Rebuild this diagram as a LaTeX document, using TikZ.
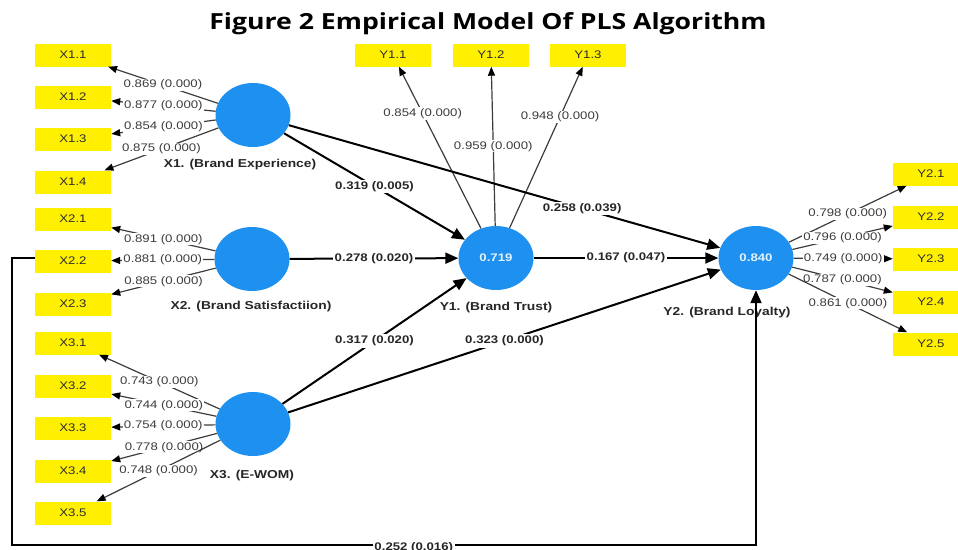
\documentclass[tikz,border=0pt]{standalone}
\usepackage{fontspec}
\setmainfont{Liberation Sans}
\newfontfamily\diagfont[FakeStretch=1.2]{Liberation Sans}
\newfontfamily\titlefont[FakeStretch=1.2]{Open Sans}
\usetikzlibrary{arrows.meta,shapes.geometric}
\definecolor{indyellow}{RGB}{255,240,0}
\definecolor{latblue}{RGB}{30,144,240}
\definecolor{loadgray}{RGB}{60,60,60}
\definecolor{lvtext}{RGB}{60,60,60}
\definecolor{boxtext}{RGB}{45,45,45}
\tikzset{
  box/.style={fill=indyellow, minimum width=76pt, minimum height=23pt, inner sep=0pt,
    font=\diagfont\fontsize{11}{13}\selectfont, text=boxtext},
  lat/.style={ellipse, fill=latblue, minimum width=75pt, minimum height=64pt, inner sep=0pt,
    font=\diagfont\bfseries\fontsize{11}{13}\selectfont, text=white!88!latblue},
  load/.style={draw=loadgray, line width=1.2pt, -{Triangle[length=9pt,width=7pt,color=black]}},
  lv/.style={fill=white, inner sep=1pt, font=\diagfont\fontsize{11}{13}\selectfont, text=lvtext},
  struct/.style={draw=black, line width=2pt, -{Triangle[length=13pt,width=11pt]}},
  pv/.style={fill=white, inner sep=1.5pt, font=\diagfont\bfseries\fontsize{11}{13}\selectfont, text=black!85},
  lvname/.style={font=\diagfont\bfseries\fontsize{11.5}{13}\selectfont, text=black!85}
}
\begin{document}
\begin{tikzpicture}[x=1pt,y=-1pt]
\useasboundingbox (0,0) rectangle (958,549);
\clip (0,0) rectangle (958,549);

% title
\node[font=\titlefont\bfseries\fontsize{22.2}{26}\selectfont] (title) at (488,24) {Figure 2 Empirical Model Of PLS Algorithm};

% latent variables
\node[lat] (X1) at (253,115) {};
\node[lat] (X2) at (252,259) {};
\node[lat] (X3) at (253,424) {};
\node[lat] (Y1) at (496,258) {0.719};
\node[lat] (Y2) at (756,258) {0.840};

\node[lvname] (nX1) at (240,165) {X1. (Brand Experience)};
\node[lvname] (nX2) at (251,307) {X2. (Brand Satisfactiion)};
\node[lvname] (nX3) at (252,476) {X3. (E-WOM)};
\node[lvname] (nY1) at (496,308) {Y1. (Brand Trust)};
\node[lvname] (nY2) at (727,313) {Y2. (Brand Loyalty)};

% indicators
\node[box] (x11) at (73,55) {X1.1};
\node[box] (x12) at (73,97) {X1.2};
\node[box] (x13) at (73,139) {X1.3};
\node[box] (x14) at (73,182) {X1.4};
\node[box] (x21) at (73,219) {X2.1};
\node[box] (x22) at (73,261) {X2.2};
\node[box] (x23) at (73,304) {X2.3};
\node[box] (x31) at (73,343) {X3.1};
\node[box] (x32) at (73,386) {X3.2};
\node[box] (x33) at (73,428) {X3.3};
\node[box] (x34) at (73,471) {X3.4};
\node[box] (x35) at (73,513) {X3.5};
\node[box] (y11) at (393,55) {Y1.1};
\node[box] (y12) at (491,55) {Y1.2};
\node[box] (y13) at (588,55) {Y1.3};
\node[box] (y21) at (931,174) {Y2.1};
\node[box] (y22) at (931,217) {Y2.2};
\node[box] (y23) at (931,259) {Y2.3};
\node[box] (y24) at (931,302) {Y2.4};
\node[box] (y25) at (931,344) {Y2.5};

% outer loadings
\draw[load] (X1) -- node[lv]{0.869 (0.000)} (x11);
\draw[load] (X1) -- node[lv]{0.877 (0.000)} (x12);
\draw[load] (X1) -- node[lv]{0.854 (0.000)} (x13);
\draw[load] (X1) -- node[lv]{0.875 (0.000)} (x14);
\draw[load] (X2) -- node[lv]{0.891 (0.000)} (x21);
\draw[load] (X2) -- node[lv]{0.881 (0.000)} (x22);
\draw[load] (X2) -- node[lv]{0.885 (0.000)} (x23);
\draw[load] (X3) -- node[lv]{0.743 (0.000)} (x31);
\draw[load] (X3) -- node[lv]{0.744 (0.000)} (x32);
\draw[load] (X3) -- node[lv]{0.754 (0.000)} (x33);
\draw[load] (X3) -- node[lv]{0.778 (0.000)} (x34);
\draw[load] (X3) -- node[lv]{0.748 (0.000)} (x35);
\draw[load] (Y1) -- node[lv,pos=0.71]{0.854 (0.000)} (y11);
\draw[load] (Y1) -- node[lv,pos=0.5]{0.959 (0.000)} (y12);
\draw[load] (Y1) -- node[lv,pos=0.69]{0.948 (0.000)} (y13);
\draw[load] (Y2) -- node[lv]{0.798 (0.000)} (y21);
\draw[load] (Y2) -- node[lv]{0.796 (0.000)} (y22);
\draw[load] (Y2) -- node[lv]{0.749 (0.000)} (y23);
\draw[load] (Y2) -- node[lv]{0.787 (0.000)} (y24);
\draw[load] (Y2) -- node[lv]{0.861 (0.000)} (y25);

% structural paths
\draw[struct] (X1) -- node[pv,pos=0.68]{0.258 (0.039)} (Y2);
\draw[struct] (X1) -- node[pv]{0.319 (0.005)} (Y1);
\draw[struct] (X2) -- node[pv]{0.278 (0.020)} (Y1);
\draw[struct] (Y1) -- node[pv]{0.167 (0.047)} (Y2);
\draw[struct] (X3) -- node[pv]{0.317 (0.020)} (Y1);
\draw[struct] (X3) -- node[pv]{0.323 (0.000)} (Y2);

\coordinate (c1) at (12,258);
\coordinate (c2) at (12,545);
\coordinate (c3) at (756,545);
\draw[struct] (x22.west |- c1) -- (c1) -- (c2) -- node[pv,pos=0.54,yshift=-3pt]{0.252 (0.016)} (c3) -- (Y2.south);
\end{tikzpicture}
\end{document}
